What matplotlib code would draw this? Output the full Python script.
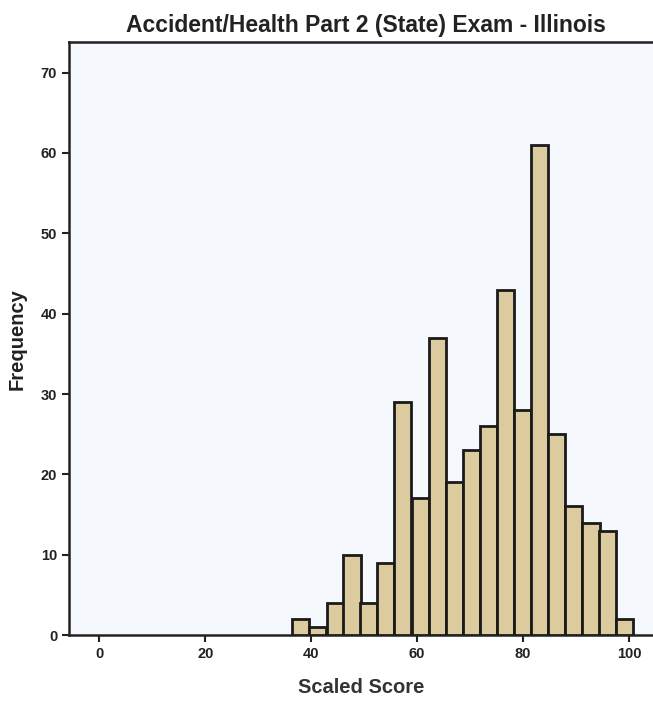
import numpy as np
import matplotlib
matplotlib.use('Agg')
from matplotlib import pyplot as plt

# histogram bins (centres, scaled score) and counts
bin_centers = [38.0, 41.2, 44.5, 47.7, 50.9, 54.1, 57.3, 60.6, 63.8, 67.0,
               70.2, 73.4, 76.7, 79.9, 83.1, 86.3, 89.5, 92.8, 96.0, 99.2]
counts = [2, 1, 4, 10, 4, 9, 29, 17, 37, 19,
          23, 26, 43, 28, 61, 25, 16, 14, 13, 2]
bin_width = 3.22

x_ticks = [0, 20, 40, 60, 80, 100]
y_ticks = [0, 10, 20, 30, 40, 50, 60, 70]

plt.rcParams['font.family'] = ['Liberation Sans', 'DejaVu Sans']

fig = plt.figure(figsize=(6.53, 7.02), dpi=100)
ax = fig.add_axes([0.1057, 0.0954, 0.8943, 0.8446])
ax.set_facecolor('#f5f8fc')

ax.bar(bin_centers, counts, width=bin_width, color='#dccb9f',
       edgecolor='#1a1a1a', linewidth=2.0, zorder=3)

ax.set_xlim(-5.7, 104.5)
ax.set_ylim(0, 73.8)
ax.set_xticks(x_ticks)
ax.set_yticks(y_ticks)
ax.tick_params(direction='out', length=5, width=1.5, colors='#222222',
               labelsize=10.5)
for lbl in ax.get_xticklabels() + ax.get_yticklabels():
    lbl.set_fontweight('bold')

for s in ['left', 'bottom', 'top']:
    ax.spines[s].set_linewidth(1.8)
    ax.spines[s].set_color('#222222')
ax.spines['right'].set_visible(False)

ax.set_xlabel('Scaled Score', fontsize=14.5, fontweight='bold', labelpad=12,
              color='#333333')
ax.set_ylabel('Frequency', fontsize=14.5, fontweight='bold', labelpad=10,
              color='#222222')
fig.text(0.56, 0.963, 'Accident/Health Part 2 (State) Exam - Illinois',
         ha='center', va='center', fontsize=16.5, fontweight='bold',
         color='#222222')

fig.savefig('out.png', dpi=100)
